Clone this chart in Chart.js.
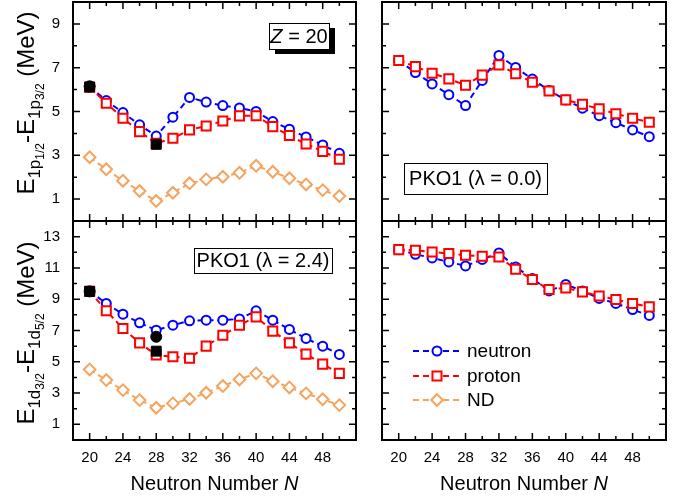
<!DOCTYPE html>
<html>
<head>
<meta charset="utf-8">
<script src="https://cdn.jsdelivr.net/npm/chart.js@4.4.0/dist/chart.umd.min.js"></script>
<style>
  html, body { margin: 0; padding: 0; background: #fff; }
  #wrap { position: relative; width: 685px; height: 497px; }
  #wrap canvas { position: absolute; left: 0; top: 0; }
</style>
</head>
<body>
<div id="wrap">
  <canvas id="tl" width="685" height="497"></canvas>
  <canvas id="tr" width="685" height="497"></canvas>
  <canvas id="bl" width="685" height="497"></canvas>
  <canvas id="br" width="685" height="497"></canvas>
</div>
<script>
// neutron numbers (x) and tick values
const neutronN = [20, 22, 24, 26, 28, 30, 32, 34, 36, 38, 40, 42, 44, 46, 48, 50];
const xMajor = [20, 24, 28, 32, 36, 40, 44, 48];
const xMinor = [22, 26, 30, 34, 38, 42, 46, 50];
const yTopMajor = [1, 3, 5, 7, 9];
const yTopMinor = [2, 4, 6, 8];
const yBotMajor = [1, 3, 5, 7, 9, 11, 13];
const yBotMinor = [2, 4, 6, 8, 10, 12];

// 1p splitting, PKO1 (lambda = 2.4)
const tlNeutron = [6.13, 5.50, 4.95, 4.39, 3.88, 4.74, 5.64, 5.43, 5.27, 5.16, 5.00, 4.54, 4.19, 3.84, 3.47, 3.09];
const tlProton  = [6.11, 5.38, 4.69, 4.08, 3.55, 3.78, 4.16, 4.34, 4.57, 4.80, 4.81, 4.31, 3.90, 3.52, 3.18, 2.82];
const tlND      = [2.91, 2.36, 1.84, 1.37, 0.91, 1.29, 1.72, 1.90, 2.02, 2.20, 2.52, 2.25, 1.95, 1.67, 1.41, 1.14];
// 1p splitting, PKO1 (lambda = 0.0)
const trNeutron = [7.33, 6.78, 6.26, 5.77, 5.27, 6.42, 7.56, 7.01, 6.48, 5.96, 5.53, 5.15, 4.81, 4.49, 4.16, 3.85];
const trProton  = [7.33, 7.05, 6.75, 6.49, 6.20, 6.66, 7.13, 6.72, 6.34, 5.94, 5.53, 5.33, 5.12, 4.90, 4.69, 4.51];
// 1d splitting, PKO1 (lambda = 2.4)
const blNeutron = [9.51, 8.73, 8.04, 7.49, 7.02, 7.34, 7.62, 7.66, 7.66, 7.74, 8.26, 7.66, 7.07, 6.49, 6.00, 5.47];
const blProton  = [9.51, 8.26, 7.13, 6.21, 5.43, 5.32, 5.23, 6.00, 6.70, 7.34, 7.87, 6.96, 6.21, 5.49, 4.85, 4.26];
const blND      = [4.51, 3.83, 3.19, 2.55, 2.06, 2.34, 2.62, 3.02, 3.45, 3.87, 4.26, 3.76, 3.36, 2.98, 2.60, 2.23];
// 1d splitting, PKO1 (lambda = 0.0)
const brNeutron = [12.17, 11.87, 11.64, 11.38, 11.13, 11.54, 11.96, 11.06, 10.32, 9.53, 9.94, 9.53, 9.05, 8.73, 8.34, 7.96];
const brProton  = [12.17, 12.13, 12.02, 11.92, 11.81, 11.75, 11.70, 10.92, 10.26, 9.62, 9.72, 9.47, 9.21, 8.98, 8.73, 8.51];

// experimental values (filled black)
const tlExpNeutronN = [20];
const tlExpNeutron  = [6.15];
const tlExpProtonN  = [20, 28];
const tlExpProton   = [6.12, 3.50];
const blExpNeutronN = [20, 28];
const blExpNeutron  = [9.50, 6.60];
const blExpProtonN  = [20, 28];
const blExpProton   = [9.50, 5.68];

const FONT = "'Liberation Sans', Arial, sans-serif";
const BLUE = '#0000ff', RED = '#ff0000', ORANGE = '#f4a460';
Chart.defaults.font.family = FONT;
Chart.defaults.color = '#000';

const pts = (xs, ys) => ys.map((v, i) => ({ x: xs[i], y: v }));

function series(label, data, color, style, radius, order) {
  return {
    label, data: pts(neutronN, data), order,
    borderColor: color, backgroundColor: '#fff',
    borderWidth: 2, borderDash: [6, 4],
    pointStyle: style, pointRadius: radius,
    pointBorderWidth: 2, pointBorderColor: color, pointBackgroundColor: '#fff',
    tension: 0, fill: false
  };
}
function expSeries(label, xs, ys, style, radius, order) {
  return {
    label, data: pts(xs, ys), order, showLine: false,
    pointStyle: style, pointRadius: radius,
    pointBorderWidth: 1, pointBorderColor: '#000', pointBackgroundColor: '#000'
  };
}

function drawText(ctx, parts, x, y) {
  // parts: [text, size, italic, dy]
  let cx = x;
  for (const [t, size, italic, dy] of parts) {
    ctx.font = (italic ? 'italic ' : '') + size + 'px ' + FONT;
    ctx.fillText(t, cx, y + (dy || 0));
    cx += ctx.measureText(t).width;
  }
  return cx - x;
}
function textWidth(ctx, parts) {
  let w = 0;
  for (const [t, size, italic] of parts) {
    ctx.font = (italic ? 'italic ' : '') + size + 'px ' + FONT;
    w += ctx.measureText(t).width;
  }
  return w;
}

function yTitleParts(orb, a, b) {
  return [
    ['E', 24], ['1' + orb, 17, false, 6], [a, 12, false, 10],
    ['-E', 24], ['1' + orb, 17, false, 6], [b, 12, false, 10],
    [' (MeV)', 24]
  ];
}

const framePlugin = {
  id: 'frame',
  afterDraw(chart, args, o) {
    const { ctx, chartArea: a, scales: { x, y } } = chart;
    ctx.save();
    ctx.strokeStyle = '#000';
    ctx.lineWidth = 1.5;
    ctx.beginPath();
    const tick = (vals, len) => {
      vals.forEach(v => {
        const px = x.getPixelForValue(v);
        ctx.moveTo(px, a.bottom); ctx.lineTo(px, a.bottom - len);
        ctx.moveTo(px, a.top); ctx.lineTo(px, a.top + len);
      });
    };
    const ytick = (vals, len) => {
      vals.forEach(v => {
        const py = y.getPixelForValue(v);
        ctx.moveTo(a.left, py); ctx.lineTo(a.left + len, py);
        ctx.moveTo(a.right, py); ctx.lineTo(a.right - len, py);
      });
    };
    tick(xMajor, 7); tick(xMinor, 4);
    ytick(o.yMajor, 7); ytick(o.yMinor, 4);
    ctx.stroke();
    ctx.lineWidth = 2;
    ctx.strokeRect(a.left, a.top, a.right - a.left, a.bottom - a.top);

    ctx.fillStyle = '#000';
    ctx.textBaseline = 'alphabetic';
    // y title with subscripts, rotated
    if (o.yTitle) {
      const parts = o.yTitle;
      const w = textWidth(ctx, parts);
      ctx.save();
      ctx.translate(o.yTitleX, o.yTitleY);
      ctx.rotate(-Math.PI / 2);
      drawText(ctx, parts, -w / 2, 0);
      ctx.restore();
    }
    // x title
    if (o.xTitle) {
      const parts = [['Neutron Number ', 20], ['N', 20, true]];
      const w = textWidth(ctx, parts);
      drawText(ctx, parts, (a.left + a.right) / 2 - w / 2, 490);
    }
    // boxed labels
    if (o.box) {
      const bx = o.box;
      if (bx.shadow) {
        ctx.fillStyle = '#000';
        ctx.fillRect(bx.l + 6, bx.t + 5, bx.r - bx.l, bx.b - bx.t);
      }
      ctx.fillStyle = '#fff';
      ctx.fillRect(bx.l, bx.t, bx.r - bx.l, bx.b - bx.t);
      ctx.lineWidth = 1;
      ctx.strokeRect(bx.l + 0.5, bx.t + 0.5, bx.r - bx.l, bx.b - bx.t);
      ctx.fillStyle = '#000';
      ctx.textBaseline = 'middle';
      const w = textWidth(ctx, bx.parts);
      drawText(ctx, bx.parts, (bx.l + bx.r) / 2 - w / 2, (bx.t + bx.b) / 2 + 1);
    }
    // legend
    if (o.legend) {
      const rows = [0, 1, 2].map(i => chart.data.datasets[i]);
      const ys = [351, 376, 400];
      rows.forEach((ds, i) => {
        const yy = ys[i];
        ctx.strokeStyle = ds.borderColor;
        ctx.lineWidth = 2;
        ctx.setLineDash([6, 4]);
        ctx.beginPath(); ctx.moveTo(413, yy); ctx.lineTo(463, yy); ctx.stroke();
        ctx.setLineDash([]);
        ctx.fillStyle = '#fff';
        const cx = 437, r = ds.pointRadius;
        ctx.beginPath();
        if (ds.pointStyle === 'circle') ctx.arc(cx, yy, r, 0, Math.PI * 2);
        else if (ds.pointStyle === 'rect') { const s = r * Math.SQRT1_2; ctx.rect(cx - s, yy - s, 2 * s, 2 * s); }
        else { ctx.moveTo(cx - r, yy); ctx.lineTo(cx, yy - r); ctx.lineTo(cx + r, yy); ctx.lineTo(cx, yy + r); ctx.closePath(); }
        ctx.fill(); ctx.stroke();
        ctx.fillStyle = '#000';
        ctx.textBaseline = 'middle';
        ctx.font = '19px ' + FONT;
        ctx.fillText(ds.label, 467, yy + 1);
      });
    }
    ctx.restore();
  }
};

function zeroPad(s) { s.paddingTop = 0; s.paddingBottom = 0; s.paddingLeft = 0; s.paddingRight = 0; }

function makePanel(id, area, yMax, yMajor, yMinor, showXLabels, showYLabels, datasets, extra) {
  const yw = showYLabels ? area.l : 0;
  const xh = showXLabels ? 40 : 0;
  return new Chart(document.getElementById(id), {
    type: 'line',
    data: { datasets },
    plugins: [framePlugin],
    options: {
      responsive: false, animation: false, events: [],
      layout: { autoPadding: false, padding: { left: area.l - yw, top: area.t, right: 685 - area.r, bottom: 497 - area.b - xh } },
      plugins: { legend: { display: false }, tooltip: { enabled: false }, frame: Object.assign({ yMajor, yMinor }, extra) },
      scales: {
        x: {
          type: 'linear', min: 18, max: 52,
          afterBuildTicks: s => { s.ticks = xMajor.map(v => ({ value: v })); },
          afterFit: s => { s.height = xh; zeroPad(s); },
          grid: { display: false, drawTicks: false }, border: { display: false },
          ticks: { display: showXLabels, padding: 9, font: { size: 15 }, color: '#000', maxRotation: 0 }
        },
        y: {
          type: 'linear', min: 0, max: yMax,
          afterBuildTicks: s => { s.ticks = yMajor.map(v => ({ value: v })); },
          afterFit: s => { s.width = yw; zeroPad(s); },
          grid: { display: false, drawTicks: false }, border: { display: false },
          ticks: { display: showYLabels, padding: 13, font: { size: 15 }, color: '#000' }
        }
      }
    }
  });
}

const L = { l: 73, r: 356 }, R = { l: 382, r: 666 };
const T = { t: 2, b: 221 }, B = { t: 221, b: 440 };

makePanel('tl', { l: L.l, r: L.r, t: T.t, b: T.b }, 10, yTopMajor, yTopMinor, false, true, [
  series('neutron', tlNeutron, BLUE, 'circle', 4.5, 4),
  series('proton', tlProton, RED, 'rect', 6.4, 3),
  series('ND', tlND, ORANGE, 'rectRot', 5.8, 5),
  expSeries('exp neutron', tlExpNeutronN, tlExpNeutron, 'circle', 5.5, 2),
  expSeries('exp proton', tlExpProtonN, tlExpProton, 'rect', 7, 1)
], {
  yTitle: yTitleParts('p', '1/2', '3/2'), yTitleX: 34, yTitleY: 103,
  box: { l: 269, t: 23, r: 329, b: 49, shadow: true, parts: [['Z', 20, true], [' = 20', 20]] }
});

makePanel('tr', { l: R.l, r: R.r, t: T.t, b: T.b }, 10, yTopMajor, yTopMinor, false, false, [
  series('neutron', trNeutron, BLUE, 'circle', 4.5, 4),
  series('proton', trProton, RED, 'rect', 6.4, 3)
], {
  box: { l: 404, t: 163, r: 547, b: 194, parts: [['PKO1 (\u03bb = 0.0)', 20]] }
});

makePanel('bl', { l: L.l, r: L.r, t: B.t, b: B.b }, 14, yBotMajor, yBotMinor, true, true, [
  series('neutron', blNeutron, BLUE, 'circle', 4.5, 4),
  series('proton', blProton, RED, 'rect', 6.4, 3),
  series('ND', blND, ORANGE, 'rectRot', 5.8, 5),
  expSeries('exp neutron', blExpNeutronN, blExpNeutron, 'circle', 5.5, 2),
  expSeries('exp proton', blExpProtonN, blExpProton, 'rect', 7, 1)
], {
  yTitle: yTitleParts('d', '3/2', '5/2'), yTitleX: 34, yTitleY: 333, xTitle: true,
  box: { l: 194, t: 248, r: 332, b: 273, parts: [['PKO1 (\u03bb = 2.4)', 20]] }
});

// bottom-right has no ND points; the empty series only carries the legend style
const brND = [];
makePanel('br', { l: R.l, r: R.r, t: B.t, b: B.b }, 14, yBotMajor, yBotMinor, true, false, [
  series('neutron', brNeutron, BLUE, 'circle', 4.5, 4),
  series('proton', brProton, RED, 'rect', 6.4, 3),
  series('ND', brND, ORANGE, 'rectRot', 5.8, 5)
], { xTitle: true, legend: true });
</script>
</body>
</html>
